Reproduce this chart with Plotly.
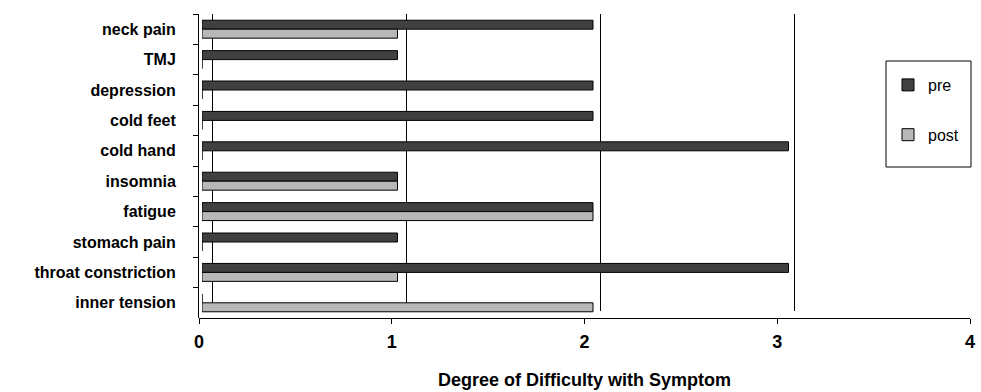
import plotly.graph_objects as go

categories = ["neck pain", "TMJ", "depression", "cold feet", "cold hand",
              "insomnia", "fatigue", "stomach pain", "throat constriction", "inner tension"]
pre = [2, 1, 2, 2, 3, 1, 2, 1, 3, 0]
post = [1, 0, 0, 0, 0, 1, 2, 0, 1, 2]
x_ticks = [0, 1, 2, 3, 4]
series_names = ["pre", "post"]
series_colors = ["#404040", "#b8b8b8"]

W, H = 981, 392
T_MARGIN, B_MARGIN = 14, 74
plot_h = H - T_MARGIN - B_MARGIN

def px(x):
    return x / W

def py(y):
    return 1 - (y - T_MARGIN) / plot_h

FONT = "Arial, 'Liberation Sans', sans-serif"
GRID_PX = 194.0   # back-wall pixels per unit
GRID_X0 = 212     # back-wall pixel of value 0

fig = go.Figure()
# invisible helper traces so that the back-wall grid axis (x/y2) and the front tick axis (x2/y) are drawn
fig.add_trace(go.Scatter(
    x=x_ticks, y=[0] * len(x_ticks), xaxis="x", yaxis="y2",
    mode="markers", marker=dict(opacity=0), showlegend=False, hoverinfo="skip",
))
fig.add_trace(go.Scatter(
    x=x_ticks, y=[categories[0]] * len(x_ticks), xaxis="x2", yaxis="y",
    mode="markers", marker=dict(opacity=0), showlegend=False, hoverinfo="skip",
))
# bars on x3 (drawn last, on top of the grid)
for name, vals, col in zip(series_names, [pre, post], series_colors):
    fig.add_trace(go.Bar(
        y=categories, x=vals, orientation="h", name=name,
        marker=dict(color=col, line=dict(color="#000000", width=1)),
        legendgroup=name, xaxis="x3", yaxis="y",
    ))

fig.update_layout(
    width=W, height=H,
    margin=dict(l=0, r=0, t=T_MARGIN, b=B_MARGIN, pad=0),
    paper_bgcolor="white", plot_bgcolor="rgba(0,0,0,0)",
    barmode="group", bargap=0.41, bargroupgap=0,
    font=dict(family=FONT, color="#000000"),
    showlegend=True,
    legend=dict(
        x=px(888), y=py(68), xanchor="left", yanchor="top",
        bgcolor="rgba(0,0,0,0)", borderwidth=0,
        font=dict(size=16, family=FONT),
        tracegroupgap=26, traceorder="grouped",
    ),
    # back-wall grid axis
    xaxis=dict(domain=[px(GRID_X0 - 2), 1],
               range=[-2 / GRID_PX, (W - GRID_X0) / GRID_PX],
               anchor="y2", showgrid=True, gridcolor="#000000", gridwidth=1,
               tickmode="array", tickvals=x_ticks[:-1],
               showticklabels=False, ticks="", showline=False, zeroline=False,
               automargin=False),
    yaxis2=dict(domain=[py(311), 1], range=[0, 1], visible=False,
                anchor="x", automargin=False),
    # front axis with tick labels
    xaxis2=dict(domain=[px(199), px(970)], range=[0, 4],
                anchor="y", side="bottom",
                tickmode="array", tickvals=x_ticks, ticktext=[str(t) for t in x_ticks],
                showline=True, linecolor="#000000", linewidth=1,
                ticks="outside", ticklen=5, tickcolor="#000000",
                showgrid=False, zeroline=False,
                tickfont=dict(size=18, family=FONT, weight="bold"),
                ticklabelstandoff=2,
                title=dict(text="Degree of Difficulty with Symptom",
                           font=dict(size=18, family=FONT, weight="bold"),
                           standoff=22),
                automargin=False),
    # bar scale axis (hidden)
    xaxis3=dict(domain=[px(202), 1], range=[0, (W - 202) / 195.5],
                anchor="y", visible=False, automargin=False),
    yaxis=dict(type="category",
               categoryorder="array", categoryarray=categories,
               range=[len(categories) - 0.5, -0.5], autorange=False,
               anchor="free", position=px(198),
               showline=True, linecolor="#000000", linewidth=1,
               ticks="outside", ticklen=5, tickcolor="#000000",
               tickson="boundaries", showgrid=False, zeroline=False,
               tickfont=dict(size=16, family=FONT, weight="bold"),
               ticklabelstandoff=19,
               automargin=False),
    shapes=[dict(type="rect", xref="paper", yref="paper",
                 x0=px(886), x1=px(971), y0=py(167), y1=py(61),
                 line=dict(color="#000000", width=1), fillcolor="rgba(0,0,0,0)")],
)

fig.write_html("out.html")
